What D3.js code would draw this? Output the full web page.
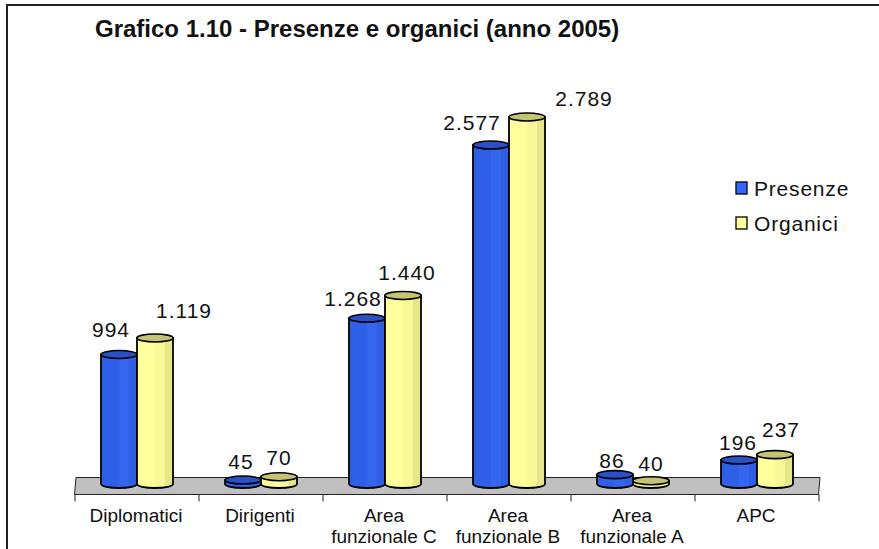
<!DOCTYPE html>
<html><head><meta charset="utf-8">
<script src="https://cdnjs.cloudflare.com/ajax/libs/d3/7.8.5/d3.min.js"></script>
<style>html,body{margin:0;padding:0;background:#fff}svg{display:block}text{font-family:"Liberation Sans",Arial,sans-serif;fill:#111}</style>
</head><body><svg id="c" width="879" height="549"></svg>
<script>
const categories = [["Diplomatici"],["Dirigenti"],["Area","funzionale C"],["Area","funzionale B"],["Area","funzionale A"],["APC"]];
const presenze = [994,45,1268,2577,86,196];
const organici = [1119,70,1440,2789,40,237];
const seriesNames = ["Presenze","Organici"];
const fmt = d3.formatLocale({decimal:",",thousands:".",grouping:[3],currency:["",""]}).format(",d");

const nudgeP = [[-8,-17],[-2,-11],[-14,-12],[-19,-15],[-3,-7],[-1,-10]];
const nudgeO = [[29,-20],[0,-12],[4,-15],[57,-11],[0,-10],[6,-18]];

const svg = d3.select("#c");
const colors = [
 {stops:["#2f5fe6","#3566ee","#2f5ee2"],top:"#2a50c8"},
 {stops:["#ffff9c","#f8f896","#e6e68a"],top:"#c4c474"}];
const defs = svg.append("defs");
colors.forEach((c,i)=>{
  const g = defs.append("linearGradient").attr("id","g"+i);
  [[0,c.stops[0]],[.5,c.stops[0]],[.5,c.stops[1]],[.78,c.stops[1]],[.78,c.stops[2]],[1,c.stops[2]]]
   .forEach(s=>g.append("stop").attr("offset",s[0]).attr("stop-color",s[1]));
});

// frame: left and top edges only
svg.append("path").attr("d","M7,549V5H879").attr("fill","none").attr("stroke","#222").attr("stroke-width",2);

const x = d3.scaleBand().domain(d3.range(categories.length)).range([75,819]);
const y = d3.scaleLinear().domain([0,2789]).range([486,117]);

// floor
const yb = y(0)-2;
svg.append("path").attr("d",`M74.5,494.5L76,477.5H820L818.5,494.5Z`).attr("fill","#c0c0c0").attr("stroke","#222").attr("stroke-width",1);
const axis = d3.axisBottom(d3.scaleLinear().domain([0,6]).range([74.5,818.5])).ticks(6).tickSize(7).tickFormat("");
svg.append("g").attr("transform","translate(0,494.5)").call(axis).call(g=>{g.select(".domain").remove();g.selectAll("line").attr("stroke","#222")});

const bw = 36, ry = 4;
function cyl(cx,v,i){
  const l=cx-bw/2,r=cx+bw/2,t=y(v);
  svg.append("path").attr("d",`M${l},${t}V${yb}A${bw/2},${ry} 0 0 0 ${r},${yb}V${t}Z`)
    .attr("fill",`url(#g${i})`).attr("stroke","#000").attr("stroke-width",1.8);
  svg.append("ellipse").attr("cx",cx).attr("cy",t).attr("rx",bw/2).attr("ry",ry)
    .attr("fill",colors[i].top).attr("stroke","#000").attr("stroke-width",1.6);
}
const labelStyle = s=>s.attr("font-size",21).attr("letter-spacing",1).attr("text-anchor","middle");
categories.forEach((c,k)=>{
  const cx = x(k)+x.bandwidth()/2;
  cyl(cx-bw/2,presenze[k],0);
  cyl(cx+bw/2,organici[k],1);
  c.forEach((t,j)=>svg.append("text").attr("x",cx-1).attr("y",522+j*21).attr("text-anchor","middle").attr("font-size",19).text(t));
});
categories.forEach((c,k)=>{
  const cx = x(k)+x.bandwidth()/2;
  svg.append("text").attr("x",cx-bw/2+nudgeP[k][0]).attr("y",y(presenze[k])+nudgeP[k][1]).text(fmt(presenze[k])).call(labelStyle);
  svg.append("text").attr("x",cx+bw/2+nudgeO[k][0]).attr("y",y(organici[k])+nudgeO[k][1]).text(fmt(organici[k])).call(labelStyle);
});

svg.append("text").attr("x",95).attr("y",37).attr("font-size",24).attr("font-weight","bold").text("Grafico 1.10 - Presenze e organici (anno 2005)");

seriesNames.forEach((n,i)=>{
  const ly = 190+i*35;
  svg.append("rect").attr("x",736).attr("y",ly-8).attr("width",11).attr("height",12)
    .attr("fill",i?"#ffff9c":"#3366ff").attr("stroke","#111").attr("stroke-width",1.4);
  svg.append("text").attr("x",754).attr("y",ly+6).attr("font-size",21).attr("letter-spacing",.8).text(n);
});
</script></body></html>
